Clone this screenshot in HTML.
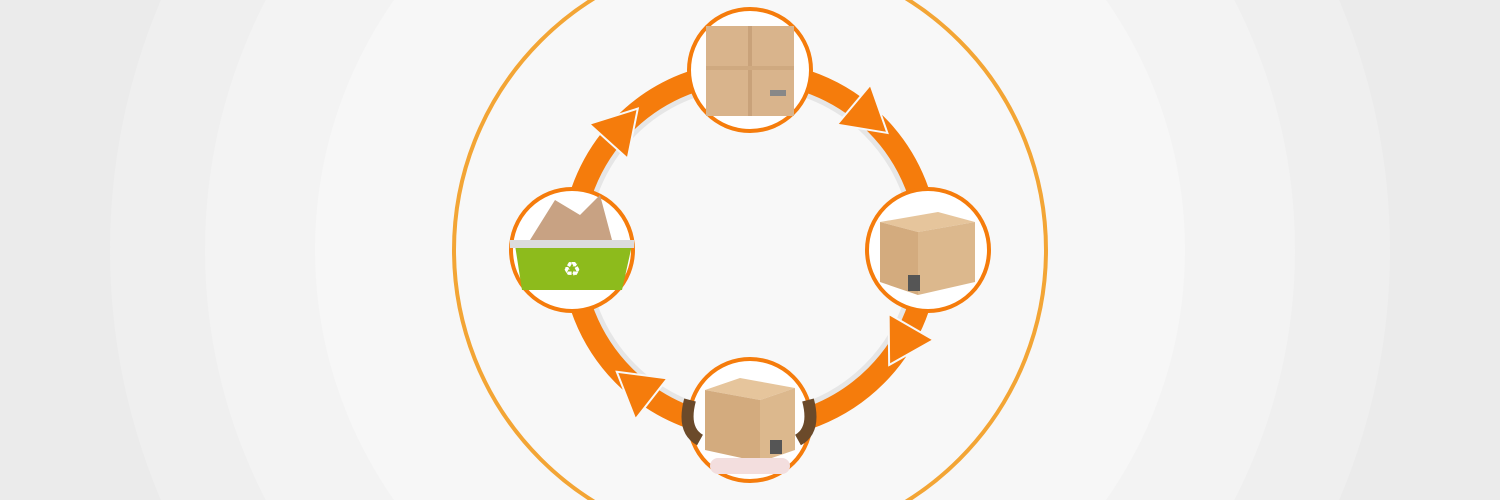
<!DOCTYPE html>
<html><head><style>
html,body{margin:0;padding:0;width:1500px;height:500px;overflow:hidden;background:#ebebeb}
svg{display:block}
</style></head><body>
<svg width="1500" height="500" viewBox="0 0 1500 500" xmlns="http://www.w3.org/2000/svg">
<rect width="1500" height="500" fill="#ebebeb"/>
<circle cx="750" cy="250" r="640" fill="#efefef"/>
<circle cx="750" cy="250" r="545" fill="#f3f3f3"/>
<circle cx="750" cy="250" r="435" fill="#f7f7f7"/>
<circle cx="750" cy="250" r="296" fill="#f8f8f8" stroke="#f3a535" stroke-width="4"/>
<circle cx="750" cy="250" r="166" fill="none" stroke="#e6e6e6" stroke-width="8"/>
<circle cx="750" cy="250" r="178" fill="none" stroke="#f57c0c" stroke-width="22"/>
<g fill="#f57c0c" stroke="#f8f8f8" stroke-width="2">
<polygon points="928,280 902,236 954,236" transform="rotate(-50 750 250)"/>
<polygon points="928,280 902,236 954,236" transform="rotate(30 750 250)"/>
<polygon points="928,280 902,236 954,236" transform="rotate(128 750 250)"/>
<polygon points="928,280 902,236 954,236" transform="rotate(222 750 250)"/>
</g>
<g fill="#fff" stroke="#f57c0c" stroke-width="4">
<circle cx="750" cy="70" r="61"/>
<circle cx="928" cy="250" r="61"/>
<circle cx="750" cy="420" r="61"/>
<circle cx="572" cy="250" r="61"/>
</g>
<!-- top flat box -->
<rect x="706" y="26" width="88" height="90" fill="#d9b48c"/>
<rect x="748" y="26" width="4" height="90" fill="#c9a27a"/>
<rect x="706" y="66" width="88" height="4" fill="#cfa980"/>
<rect x="770" y="90" width="16" height="6" fill="#888"/>
<!-- right 3D box -->
<polygon points="880,222 938,212 975,222 918,232" fill="#e6c59c"/>
<polygon points="880,222 918,232 918,295 880,282" fill="#d3ab7e"/>
<polygon points="918,232 975,222 975,282 918,295" fill="#dcb88d"/>
<rect x="908" y="275" width="12" height="16" fill="#555"/>
<!-- bottom box with person -->
<path d="M690,400 q-8,30 10,40 M808,400 q8,30 -10,40" stroke="#6b4a2a" stroke-width="12" fill="none"/>
<polygon points="705,390 740,378 795,388 760,400" fill="#e6c59c"/>
<polygon points="705,390 760,400 760,462 705,450" fill="#d3ab7e"/>
<polygon points="760,400 795,388 795,450 760,462" fill="#dcb88d"/>
<rect x="770" y="440" width="12" height="14" fill="#555"/>
<rect x="710" y="458" width="80" height="16" rx="8" fill="#f3dede"/>
<!-- left recycle bin -->
<polygon points="530,240 555,200 580,215 600,195 612,240" fill="#c8a283"/>
<polygon points="515,245 632,245 622,290 522,290" fill="#8dbb1c"/>
<rect x="510" y="240" width="124" height="8" fill="#dcdcdc"/>
<text x="572" y="276" font-family="DejaVu Sans, sans-serif" font-size="20" fill="#fff" text-anchor="middle">♻</text>
</svg>
</body></html>
